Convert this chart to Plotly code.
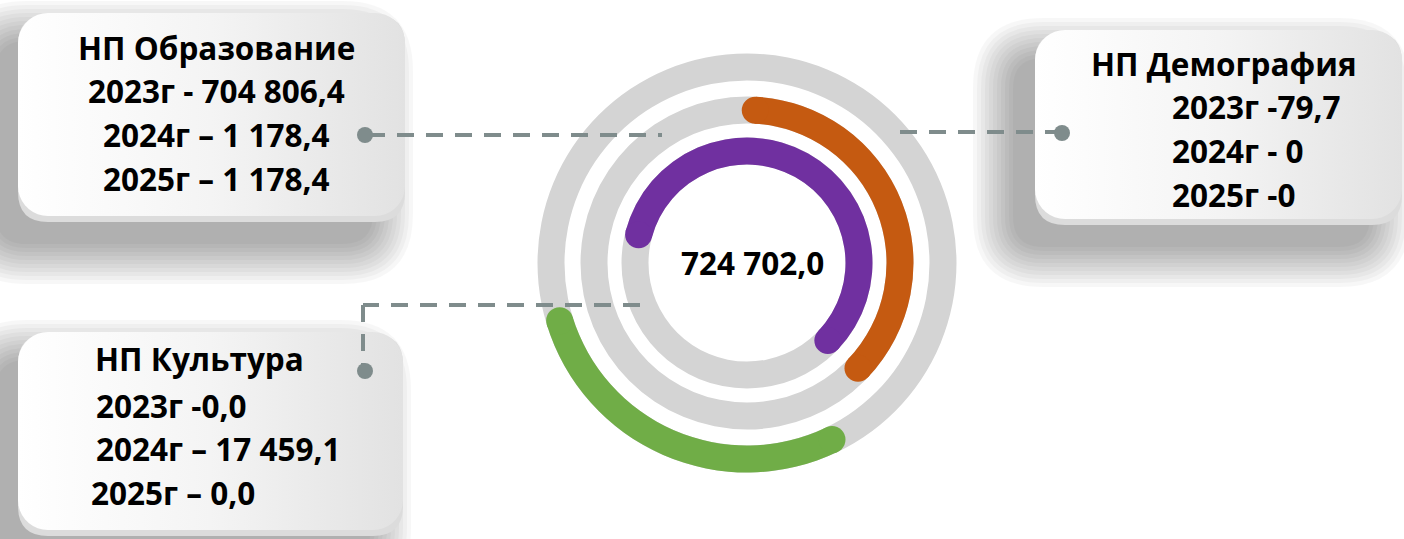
import numpy as np
import plotly.graph_objects as go

W, H = 1404, 539

# ---------------- data ----------------
programs = ["НП Образование", "НП Демография", "НП Культура"]
obr_lines = ["2023г - 704 806,4", "2024г – 1 178,4", "2025г – 1 178,4"]
dem_lines = ["2023г -79,7", "2024г - 0", "2025г -0"]
kul_lines = ["2023г -0,0", "2024г – 17 459,1", "2025г – 0,0"]
total_label = "724 702,0"

# rings, outer -> inner
ring_programs = ["НП Культура", "НП Демография", "НП Образование"]
arc_start_deg = [154.3, 3.1, -75.4]   # clockwise from 12 o'clock
arc_end_deg = [252.9, 133.5, 133.8]
arc_colors = ["#70AD47", "#C55A11", "#7030A0"]

# ---------------- geometry / style ----------------
CX, CY = 747, 263
R_MAX = 212
ring_radius = [196, 153, 112]
ring_width = 27
track_color = "#D4D4D4"
conn_color = "#7F8C8C"
FONT = "Open Sans"
FS = 31.5

fig = go.Figure()


def rounded_rect(x0, y0, x1, y1, r, n=10):
    xs, ys = [], []
    corners = [
        (x1 - r, y0 + r, -90, 0),
        (x1 - r, y1 - r, 0, 90),
        (x0 + r, y1 - r, 90, 180),
        (x0 + r, y0 + r, 180, 270),
    ]
    for cx, cy, a0, a1 in corners:
        a = np.radians(np.linspace(a0, a1, n))
        xs += list(cx + r * np.cos(a))
        ys += list(cy + r * np.sin(a))
    xs.append(xs[0])
    ys.append(ys[0])
    return xs, ys


def rr_path(x0, y0, x1, y1, r):
    return (f"M {x0+r},{y0} L {x1-r},{y0} Q {x1},{y0} {x1},{y0+r} "
            f"L {x1},{y1-r} Q {x1},{y1} {x1-r},{y1} L {x0+r},{y1} "
            f"Q {x0},{y1} {x0},{y1-r} L {x0},{y0+r} Q {x0},{y0} {x0+r},{y0} Z")


boxes = [
    (18, 13, 405, 216),
    (1035, 30, 1402, 219),
    (18, 332, 403, 530),
]
BOX_R = 30

shapes = []
for (x0, y0, x1, y1) in boxes:
    dx, dy = -22, 28
    for i in range(11):
        e = i * 4
        shapes.append(dict(type="path", xref="x", yref="y", layer="below",
                           path=rr_path(x0 + dx - e, y0 + dy - e, x1 + dx + e - 10, y1 + dy + e, BOX_R + e),
                           fillcolor="rgba(0,0,0,0.033)", line=dict(width=0)))
    shapes.append(dict(type="path", xref="x", yref="y", layer="below",
                       path=rr_path(x0, y0 + 2, x1, y1 + 6, BOX_R),
                       fillcolor="#DCDCDC", line=dict(width=0)))

for (x0, y0, x1, y1) in boxes:
    bx, by = rounded_rect(x0, y0, x1, y1, BOX_R)
    fig.add_trace(go.Scatter(
        x=bx, y=by, mode="lines", fill="toself", line=dict(width=0),
        fillgradient=dict(type="horizontal",
                          colorscale=[[0, "#FFFFFF"], [0.5, "#F4F4F4"], [1, "#E2E2E2"]]),
        hoverinfo="skip", showlegend=False))

# connector dots
dot_x = [365, 1062, 365]
dot_y = [135, 133, 371]
fig.add_trace(go.Scatter(x=dot_x, y=dot_y, mode="markers",
                         marker=dict(size=16, color=conn_color), hoverinfo="skip", showlegend=False))

# connector dashed lines (above polar)
dash = "17px,12px"
for (xa, ya, xb, yb) in [(368, 135, 662, 135), (900, 132, 1060, 132),
                         (640, 305, 363, 305), (363, 305, 363, 366)]:
    shapes.append(dict(type="line", xref="x", yref="y", layer="above",
                       x0=xa, y0=ya, x1=xb, y1=yb,
                       line=dict(color=conn_color, width=4, dash=dash)))

# ---------------- rings ----------------
bases = [rc - ring_width / 2 for rc in ring_radius]
fig.add_trace(go.Barpolar(r=[ring_width] * 3, base=bases, theta=[0, 0, 0], width=[360] * 3,
                          marker=dict(color=track_color, line=dict(width=0)),
                          hoverinfo="skip", showlegend=False))

for rc, b, s, e, c, name in zip(ring_radius, bases, arc_start_deg, arc_end_deg, arc_colors, ring_programs):
    fig.add_trace(go.Barpolar(r=[ring_width], base=[b], theta=[(s + e) / 2], width=[e - s],
                              marker=dict(color=c, line=dict(width=0)), name=name,
                              hoverinfo="skip", showlegend=False))
    fig.add_trace(go.Scatterpolar(r=[rc, rc], theta=[s, e], mode="markers",
                                  marker=dict(size=ring_width, color=c, line=dict(width=0)),
                                  hoverinfo="skip", showlegend=False))

# ---------------- text ----------------
ann = []


def add_text(txt, x, y, anchor):
    ann.append(dict(text=txt, x=x, y=y, xref="x", yref="y", xanchor=anchor, yanchor="middle",
                    showarrow=False, font=dict(family=FONT, size=FS, color="#000000", weight=700)))


add_text(programs[0], 216, 47, "center")
for t, y in zip(obr_lines, [90, 134, 178]):
    add_text(t, 216, y, "center")

add_text(programs[1], 1224, 63, "center")
for t, y in zip(dem_lines, [106, 150, 194]):
    add_text(t, 1170, y, "left")

add_text(programs[2], 93, 358, "left")
for t, x, y in zip(kul_lines, [94, 94, 89], [405, 448, 492]):
    add_text(t, x, y, "left")

add_text(total_label, 752, 262, "center")

fig.update_layout(
    width=W, height=H, margin=dict(l=0, r=0, t=0, b=0),
    paper_bgcolor="#FFFFFF", plot_bgcolor="#FFFFFF", showlegend=False,
    xaxis=dict(range=[0, W], visible=False, fixedrange=True, domain=[0, 1]),
    yaxis=dict(range=[H, 0], visible=False, fixedrange=True, domain=[0, 1]),
    polar=dict(
        domain=dict(x=[(CX - R_MAX) / W, (CX + R_MAX) / W],
                    y=[(H - CY - R_MAX) / H, (H - CY + R_MAX) / H]),
        bgcolor="rgba(0,0,0,0)",
        barmode="overlay",
        radialaxis=dict(range=[0, R_MAX], visible=False),
        angularaxis=dict(visible=False, direction="clockwise", rotation=90),
    ),
    shapes=shapes,
    annotations=ann,
)

fig.write_html("out.html", config={"displayModeBar": False},
               post_script="document.body.style.margin='0';document.body.style.overflow='hidden';")
